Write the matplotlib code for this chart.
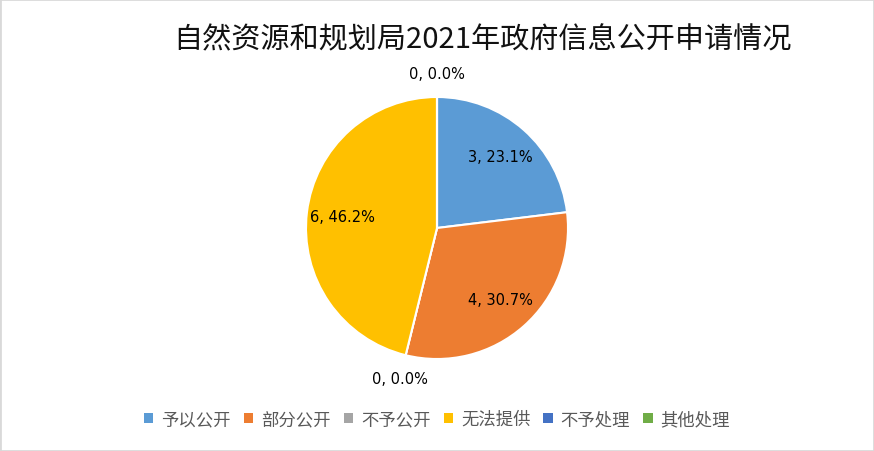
import numpy as np
import matplotlib
matplotlib.use('Agg')
import matplotlib.pyplot as plt
from matplotlib.patches import Rectangle

plt.rcParams['font.family'] = ['Noto Sans CJK SC', 'DejaVu Sans']

# data
categories = ['予以公开', '部分公开', '不予公开', '无法提供', '不予处理', '其他处理']
counts = [3, 4, 0, 6, 0, 0]
pct_labels = ['23.1%', '30.7%', '0.0%', '46.2%', '0.0%', '0.0%']
colors = ['#5B9BD5', '#ED7D31', '#A5A5A5', '#FFC000', '#4472C4', '#70AD47']
title = '自然资源和规划局2021年政府信息公开申请情况'

fig = plt.figure(figsize=(8.74, 4.52), dpi=100)
fig.patches.append(Rectangle((0, 0), 1, 1, transform=fig.transFigure,
                             fill=False, edgecolor='#D9D9D9', linewidth=2))

cx, cy, r = 437, 452 - 229, 131
ax = fig.add_axes([(cx - r) / 874, (cy - r) / 452, 2 * r / 874, 2 * r / 452])
wedges, _ = ax.pie(counts, colors=colors, startangle=90, counterclock=False,
                   wedgeprops=dict(edgecolor='white', linewidth=1.5))
ax.set_aspect('equal')
ax.set_xlim(-1, 1)
ax.set_ylim(-1, 1)

# data labels
seen = set()
for w, n, p in zip(wedges, counts, pct_labels):
    ang = (w.theta1 + w.theta2) / 2
    key = round(ang, 1)
    if key in seen:
        continue
    seen.add(key)
    d = 0.73 if n > 0 else 1.18
    x, y = d * np.cos(np.radians(ang)), d * np.sin(np.radians(ang))
    ax.text(x, y, f'{n}, {p}', ha='center', va='center', fontsize=10.5,
            color='black', family=['DejaVu Sans'], clip_on=False)

fig.text(482 / 874, 1 - 40 / 452, title, ha='center', va='center',
         fontsize=21, color='#111111', fontweight='light')

handles = [Rectangle((0, 0), 1, 1, facecolor=c) for c in colors]
leg = fig.legend(handles, categories, loc='center', bbox_to_anchor=(437 / 874, 1 - 420 / 452),
                 ncol=6, frameon=False, fontsize=12.5, handlelength=0.55, handleheight=0.55,
                 handletextpad=0.45, columnspacing=0.75)
for t in leg.get_texts():
    t.set_color('#595959')

fig.savefig('out.png', dpi=100)
